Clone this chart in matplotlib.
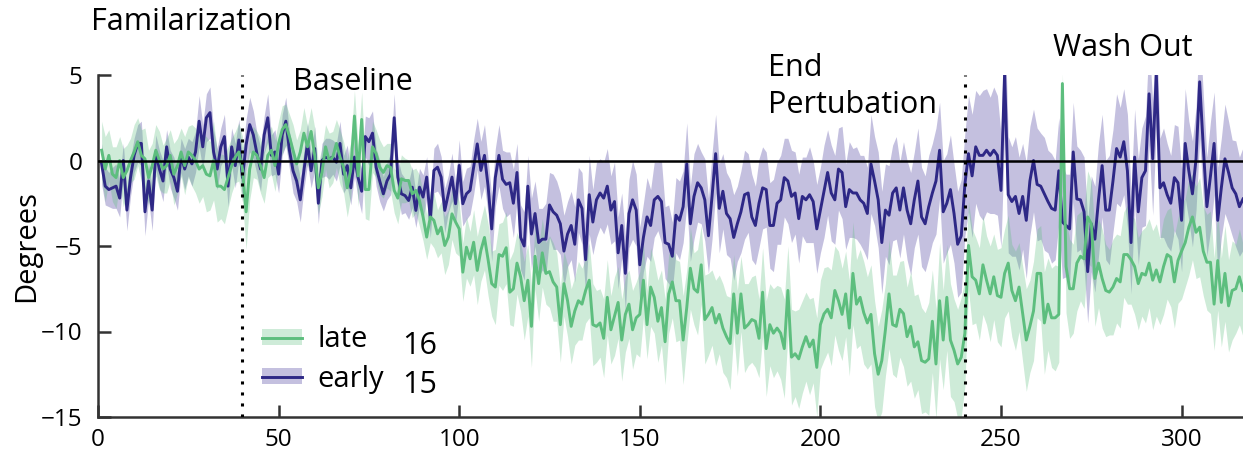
import numpy as np
import matplotlib
matplotlib.use("Agg")
import matplotlib.pyplot as plt
from matplotlib.patches import Patch
from matplotlib.lines import Line2D

plt.rcParams['font.family'] = ['Open Sans', 'DejaVu Sans']
plt.rcParams['axes.unicode_minus'] = True

# mean reach angle per trial (degrees)
late_mean = [
    0.6, -0.5, 0.3, -0.8, -1.0, 0.0, -1.0, -0.6, 0.0, 0.5,
    1.1, 0.3, 0.1, -1.0, -0.3, 0.6, 0.0, -0.5, -0.3, 0.3,
    -0.8, -0.3, 0.5, -0.3, 0.5, 0.3, 0.0, -0.5, -0.3, -0.8,
    -0.9, 0.0, -1.5, -1.5, -1.7, -1.0, -0.3, 0.2, 0.5, -0.5,
    -3.0, -0.5, 0.5, 0.3, -0.3, -1.0, 0.3, 0.6, -0.3, 1.0,
    1.8, 2.1, 1.4, 0.6, -0.2, 0.5, 1.6, 0.8, 1.7, 0.3,
    -1.6, -0.7, 0.8, 0.0, 0.2, 1.0, 0.2, -0.4, -1.6, -0.5,
    2.6, -0.9, 2.4, -1.7, -1.7, 0.8, 0.4, -0.4, -0.7, -0.3,
    -0.4, -1.75, -2.2,
    -1.07, -1.17, -1.17, -1.95, -1.75, -2.34, -3.3, -4.48, -3.3, -3.5,
    -4.29, -3.9, -4.97, -4.48, -3.12, -3.6, -4.0, -6.53, -5.07, -5.75,
    -4.78, -6.43, -5.26,
    -4.5, -5.8, -7.2, -7.4, -5.5, -5.6, -5.1, -7.7, -7.5, -6.0,
    -6.8, -8.2, -7.0, -9.7, -5.6, -7.2, -5.4, -6.6, -6.5, -7.1,
    -7.4, -9.6, -7.2, -8.2, -9.7, -8.8, -8.2, -8.4, -7.6, -7.0,
    -9.6, -9.7, -9.5, -10.4, -8.0, -9.9, -9.1, -8.3, -10.5, -9.0,
    -8.4, -9.9, -9.2, -9.0, -7.0, -9.6, -7.4, -8.0, -9.4, -8.6,
    -10.6, -7.8, -7.1,
    -8.2, -8.2, -10.5, -8.6, -6.3, -7.5, -7.7, -6.1, -9.3, -9.0,
    -8.6, -9.5, -9.0, -9.8, -10.3, -10.7, -7.8, -10.1, -7.8, -9.8,
    -9.6, -9.3, -9.4, -10.4, -7.7, -11.0, -9.6, -10.1, -9.8, -10.1,
    -11.0, -7.6, -11.5, -11.3, -11.6, -10.9, -10.3, -10.9, -10.5, -12.1,
    -9.6, -8.97, -8.7, -9.2, -7.6, -8.2, -9.0, -7.8, -9.8, -6.6,
    -8.4,
    -8.0, -8.9, -9.5, -9.0, -11.3, -12.5, -11.7, -9.9, -7.8, -9.6,
    -9.7, -8.7, -8.95, -10.3, -9.7, -10.9, -10.6, -11.7, -11.8, -11.6,
    -9.4, -11.9, -8.2, -10.5, -8.0, -10.5, -11.1, -11.9, -11.5, -10.1,
    -4.97, -6.8, -7.0, -7.8, -6.1, -7.0, -7.8, -6.8, -7.9, -8.0,
    -6.6, -6.0, -7.6, -8.2, -7.4, -8.97, -10.5, -9.7, -8.8, -6.6,
    -6.6, -9.5, -8.4, -9.2, -9.2, -9.0,
    4.5,
    -6.2, -7.5, -7.5, -6.0, -5.6, -5.75, -3.3, -3.7, -6.9, -6.0,
    -6.9, -7.6, -7.7, -7.4, -6.9, -7.1, -5.5, -5.5, -5.8, -6.2,
    -7.2, -6.6, -6.7, -6.0, -7.0, -6.4, -7.1, -6.2, -5.5, -5.65,
    -7.1, -5.85, -5.3, -4.8, -3.9, -3.3, -4.2, -3.9, -5.3, -5.95,
    -5.95, -8.4, -5.85, -8.3, -6.6, -8.5, -7.6, -7.5, -6.8, -7.6,
]

early_mean = [
    -0.2, -1.5, -1.7, -1.6, -1.5, -2.2, 0.0, -2.9, -1.0, 0.3,
    1.0, 1.0, -3.0, -1.2, -2.9, 0.5, -0.5, -1.2, 0.8, -0.5,
    -1.0, -1.8, 0.3, -0.5, 0.2, -0.2, 0.5, 2.3, 0.8, 2.5,
    2.8, 0.5, -0.5, 0.8, 1.4, -1.5, 0.8, -0.3, 1.2, -1.0,
    0.9, 2.1, 1.5, 0.4, -0.5, 1.5, 2.5, 0.3, 0.5, -0.8,
    1.5, 2.3, 0.6, -0.6, -1.2, -2.3, -0.6, 1.0, -0.6, 0.7,
    -2.5, 0.0, 0.2, 0.1, 0.2, -0.1, 1.0, -0.8, -0.3, -1.6,
    0.2, -1.0, -1.8, 1.4, 1.1, 1.6, -0.4, -1.2, -1.95, -1.2,
    -0.8, 2.5,
    -0.97, -1.95, -2.05, -2.34, -1.56, -2.92, -1.56, -2.14, -0.97, -3.41,
    -0.58, -0.39, -0.97, -2.92, -1.95, -0.97, -2.53, -0.29, -2.53, -1.95,
    -1.75, -0.39, 0.97, -0.58,
    0.3, -1.5, -4.0, -1.0, 0.3, -1.1, -1.4, -1.3, -2.5, -0.7,
    -4.5, -5.0, -1.5, -4.3, -3.1, -4.8, -4.6, -4.6, -2.6, -3.0,
    -3.2, -3.7, -5.3, -4.3, -3.8, -4.9, -2.3, -2.8, -5.8, -2.0,
    -3.6, -2.3, -1.9, -2.2, -1.5, -2.9, -2.4, -5.4, -3.8, -6.6,
    -3.1, -2.3, -2.9, -6.1, -4.5, -3.3, -3.8, -2.3, -2.1, -2.4,
    -4.8, -4.9, -5.6,
    -3.2, -3.5, -2.7, -0.2, -3.7, -2.1, -1.3, -1.6, -2.3, -4.4,
    -2.1, 0.4, -2.8, -1.8, -3.1, -3.4, -4.5, -3.7, -3.0, -2.0,
    -1.9, -3.3, -3.8, -2.5, -1.6, -1.7, -3.8, -3.8, -2.5, -2.3,
    -1.0, -1.2, -2.1, -1.9, -3.4, -2.1, -2.3, -2.0, -2.4, -4.0,
    -2.9, -1.8, -0.7, -1.9, -2.3, -0.5, -0.7, -2.7, -1.7, -1.9,
    -1.9,
    -2.3, -2.5, -3.1, -0.2, -1.2, -2.3, -4.8, -2.9, -3.2, -1.9,
    -1.6, -2.9, -1.6, -2.9, -3.7, -2.3, -1.2, -3.3, -3.7, -2.7,
    -1.9, -1.2, 0.6, -3.0, -2.5, -1.7, -3.1, -4.9, -4.4, -1.4,
    0.4, -0.9, 0.8, 0.3, 0.3, 0.6, 0.3, 0.6, 0.3, -1.75,
    5.1, -2.0, -2.4, -2.1, -3.1, -2.1, -3.5, -1.2, 0.0, -1.4,
    -1.5, -1.95, -2.4, -2.8, -2.9, -0.6,
    -3.6, -3.8, -4.0, 0.5, -2.25, -2.3, -3.0, -6.5, -3.7, -4.6,
    -2.3, -0.3, -2.9, -2.9, -1.2, 0.7, 0.2, 1.1, -0.6, -4.8,
    0.2, -3.0, -1.0, -0.6, 3.9, 0.1, 5.1, -1.6, -1.3, -2.0,
    -2.5, -1.0, -1.3, -3.5, 1.0, -0.6, -1.95, 0.1, 4.6, 0.8,
    -2.7, -0.9, 1.0, -3.5, -1.6, 0.1, -0.7, -1.6, -1.95, -2.7,
    -2.25,
]

# half width of the shaded band (s.e.m.)
late_sem = [
    1.7, 1.9, 1.5, 1.6, 1.8, 1.4, 1.7, 1.5, 1.3, 1.6,
    1.4, 1.5, 1.8, 1.6, 1.3, 1.5, 1.7, 1.4, 1.6, 1.5,
    1.8, 1.6, 1.4, 1.7, 1.5, 1.8, 1.9, 2.0, 1.8, 2.2,
    2.0, 2.3, 2.1, 1.9, 2.0, 1.8, 1.6, 1.5, 1.7, 1.9,
    2.2, 1.8, 1.5, 1.4, 1.6, 1.5, 1.3, 1.4, 1.5, 1.3,
    1.4, 1.2, 1.3, 1.5, 1.4, 1.3, 1.5, 1.2, 1.4, 1.6,
    1.5, 1.4, 1.3, 1.6, 1.5, 1.4, 1.6, 1.5, 1.7, 1.6,
    1.5, 1.8, 1.6, 1.7, 1.8, 1.5, 1.4, 1.6, 1.5, 1.3,
    1.4, 1.3, 1.5, 1.4, 1.3, 1.2, 1.4, 1.3, 1.5, 1.4,
    1.3, 1.5, 1.6, 1.4, 1.5, 1.7, 1.6, 1.5, 1.8, 1.6,
    1.7, 1.8, 1.6, 1.9, 2.0, 1.8, 1.9, 2.1, 1.9, 2.2,
    1.8, 2.0, 2.1, 1.9, 2.2, 1.8, 2.0, 2.3, 2.1, 2.4,
    1.9, 2.2, 2.0, 1.8, 2.1, 2.3, 2.0, 2.2, 1.9, 2.1,
    2.2, 2.0, 2.3, 2.1, 1.9, 2.2, 2.4, 2.1, 2.0, 2.3,
    2.2, 2.0, 2.3, 2.1, 2.4, 2.2, 2.0, 2.3, 2.1, 2.5,
    2.2, 2.0, 2.3, 2.1, 2.4, 2.2, 2.5, 2.3, 2.1, 2.4,
    2.3, 2.6, 2.2, 2.4, 2.1, 2.5, 2.3, 2.6, 2.4, 2.2,
    2.5, 2.3, 2.6, 2.4, 2.7, 2.3, 2.5, 2.2, 2.6, 2.4,
    2.5, 2.7, 2.3, 2.6, 2.8, 2.4, 2.6, 2.5, 2.7, 2.9,
    2.6, 2.8, 2.5, 2.9, 2.7, 2.6, 2.8, 2.5, 2.9, 2.6,
    2.7, 2.5, 2.8, 2.6, 2.9, 2.7, 2.5, 2.8, 3.0, 2.6,
    2.8, 3.0, 2.7, 2.9, 3.1, 2.8, 3.0, 2.7, 3.2, 2.9,
    3.0, 2.8, 3.1, 2.9, 3.2, 3.0, 2.8, 3.1, 2.9, 3.3,
    3.0, 3.2, 3.4, 2.9, 3.1, 3.3, 3.0, 3.2, 3.5, 3.1,
    2.6, 2.8, 2.5, 2.7, 2.9, 2.6, 2.8, 2.5, 2.7, 2.9,
    2.6, 2.8, 2.7, 2.9, 2.6, 2.8, 3.0, 2.7, 2.9, 2.6,
    2.8, 3.0, 2.7, 2.9, 3.1, 2.8, 0.6, 2.7, 2.9, 2.6,
    2.8, 2.6, 2.9, 2.7, 2.5, 2.8, 2.6, 2.9, 2.7, 2.5,
    2.8, 2.6, 2.7, 2.5, 2.9, 2.6, 2.8, 2.7, 2.5, 2.8,
    2.6, 2.9, 2.7, 2.5, 2.8, 2.6, 2.9, 2.7, 2.5, 2.8,
    2.6, 2.8, 2.5, 2.7, 2.9, 2.6, 2.8, 3.0, 2.7, 2.9,
    2.6, 2.8, 2.7, 2.9, 2.6, 2.8, 2.7,
]

early_sem = [
    1.2, 1.1, 1.0, 1.2, 1.3, 1.1, 1.0, 1.2, 1.1, 1.0,
    1.1, 1.3, 1.4, 1.1, 1.2, 1.0, 1.1, 1.2, 1.0, 1.1,
    1.2, 1.1, 1.0, 1.2, 1.1, 1.3, 1.2, 1.5, 1.3, 1.4,
    1.5, 1.3, 1.2, 1.1, 1.3, 1.2, 1.1, 1.3, 1.2, 1.4,
    1.5, 1.6, 1.4, 1.2, 1.3, 1.1, 1.4, 1.2, 1.3, 1.1,
    1.2, 1.4, 1.1, 1.3, 1.2, 1.3, 1.1, 1.2, 1.0, 1.3,
    1.2, 1.0, 1.1, 1.2, 1.0, 1.1, 1.3, 1.1, 1.2, 1.0,
    1.1, 1.2, 1.3, 1.2, 1.4, 1.3, 1.1, 1.2, 1.0, 1.1,
    1.2, 1.4, 1.1, 1.2, 1.0, 1.1, 1.2, 1.0, 1.1, 1.3,
    1.2, 1.1, 1.3, 1.4, 1.2, 1.3, 1.1, 1.4, 1.2, 1.5,
    1.3, 1.5, 1.4, 1.6, 1.5, 1.7, 1.8, 1.6, 1.9, 1.7,
    1.8, 1.7, 1.9, 1.8, 2.0, 1.7, 1.9, 2.0, 1.8, 2.1,
    1.9, 2.0, 1.8, 2.1, 1.9, 2.2, 2.0, 1.8, 2.1, 1.9,
    2.0, 2.2, 1.9, 2.1, 2.0, 2.3, 1.9, 2.2, 2.0, 2.1,
    2.2, 2.0, 2.3, 2.1, 1.9, 2.2, 2.0, 2.3, 2.1, 2.2,
    2.0, 2.3, 2.1, 2.2, 2.0, 2.4, 2.1, 2.3, 2.0, 2.2,
    2.3, 2.1, 2.4, 2.2, 2.5, 2.3, 2.1, 2.4, 2.2, 2.5,
    2.3, 2.6, 2.2, 2.4, 2.3, 2.5, 2.2, 2.4, 2.6, 2.3,
    2.5, 2.3, 2.6, 2.4, 2.2, 2.5, 2.7, 2.4, 2.6, 2.3,
    2.5, 2.7, 2.4, 2.6, 2.3, 2.5, 2.8, 2.4, 2.6, 2.5,
    2.7, 2.5, 2.8, 2.6, 2.4, 2.7, 2.5, 2.8, 2.6, 2.7,
    2.6, 2.8, 2.7, 2.9, 2.6, 2.8, 3.0, 2.7, 2.9, 2.8,
    3.0, 2.8, 2.7, 2.9, 3.0, 2.8, 3.1, 2.9, 2.8, 3.0,
    2.9, 3.1, 2.8, 3.0, 2.9, 3.2, 2.9, 3.1, 3.3, 3.0,
    3.4, 3.6, 3.3, 3.5, 3.8, 3.6, 3.4, 3.7, 3.5, 3.3,
    3.6, 3.4, 3.2, 3.5, 3.3, 3.1, 3.4, 3.2, 3.0, 3.3,
    3.1, 3.3, 3.0, 3.2, 2.9, 3.1, 3.3, 3.0, 3.2, 2.9,
    3.1, 2.9, 3.2, 3.0, 2.8, 3.1, 3.3, 3.0, 2.9, 3.2,
    3.0, 3.2, 2.9, 3.1, 3.3, 3.0, 2.8, 3.1, 2.9, 3.2,
    3.0, 3.3, 3.1, 2.9, 3.2, 3.0, 2.8, 3.1, 3.3, 3.0,
    3.2, 2.9, 3.1, 3.0, 3.3, 3.1, 2.9, 3.2, 3.0, 3.1,
    2.9, 3.2, 3.0, 2.8, 3.1, 2.9, 3.0,
]

group_labels = ['late', 'early']
group_n = ['16', '15']
phase_bounds = [40, 240]
phase_names = ['Familarization', 'Baseline', 'End\nPertubation', 'Wash Out']

late_color = '#5dbe7e'
early_color = '#2e2886'

fig = plt.figure(figsize=(12.43, 4.53), dpi=100)
ax = fig.add_axes([98 / 1243, 36 / 453, 1145 / 1243, 342 / 453])

x_late = np.arange(1, len(late_mean) + 1)
x_early = np.arange(1, len(early_mean) + 1)
lm, ls_ = np.array(late_mean), np.array(late_sem)
em, es = np.array(early_mean), np.array(early_sem)

# early drawn first, late on top
ax.fill_between(x_early, em - es, em + es, color='#8a82c0', alpha=0.5, lw=0)
ax.plot(x_early, em, color=early_color, lw=2.1)
ax.fill_between(x_late, lm - ls_, lm + ls_, color=late_color, alpha=0.3, lw=0)
ax.plot(x_late, lm, color=late_color, lw=2.1)

ax.axhline(0, color='black', lw=1.8, zorder=5)
for b in phase_bounds:
    ax.axvline(b, color='black', lw=2.2, ls=(0, (1, 2.6)), zorder=5)

ax.set_xlim(0, 317)
ax.set_ylim(-15, 5)
ax.set_xticks([0, 50, 100, 150, 200, 250, 300])
ax.set_yticks([-15, -10, -5, 0, 5])
ax.tick_params(direction='in', length=9, width=1.8, color='#333333',
               labelsize=17.5)
ax.tick_params(axis='y', pad=11)
ax.tick_params(axis='x', pad=8)
for s in ['top', 'right']:
    ax.spines[s].set_visible(False)
for s in ['left', 'bottom']:
    ax.spines[s].set_color('#333333')
    ax.spines[s].set_linewidth(1.8)
ax.set_ylabel('Degrees', fontsize=21, labelpad=0)

# phase annotations
ax.text(-2, 8.1, phase_names[0], fontsize=22, va='center', ha='left', clip_on=False)
ax.text(54, 4.6, phase_names[1], fontsize=22, va='center', ha='left', clip_on=False)
ax.text(185.5, 4.35, phase_names[2], fontsize=22, va='center', ha='left',
        linespacing=1.3, clip_on=False)
ax.text(264.5, 6.6, phase_names[3], fontsize=22, va='center', ha='left', clip_on=False)

handles = [
    (Patch(facecolor=late_color, alpha=0.3, lw=0), Line2D([], [], color=late_color, lw=2.1)),
    (Patch(facecolor='#8a82c0', alpha=0.5, lw=0), Line2D([], [], color=early_color, lw=2.1)),
]
ax.legend(handles, group_labels, loc='upper left', bbox_to_anchor=(0.143, 0.268),
          frameon=False, fontsize=21, handlelength=1.37, handleheight=0.45,
          handletextpad=0.55, labelspacing=0.35, borderpad=0, borderaxespad=0)
ax.text(0.2655, 0.207, group_n[0], transform=ax.transAxes, fontsize=22, va='center')
ax.text(0.2655, 0.093, group_n[1], transform=ax.transAxes, fontsize=22, va='center')

fig.savefig('out.png', dpi=100)
